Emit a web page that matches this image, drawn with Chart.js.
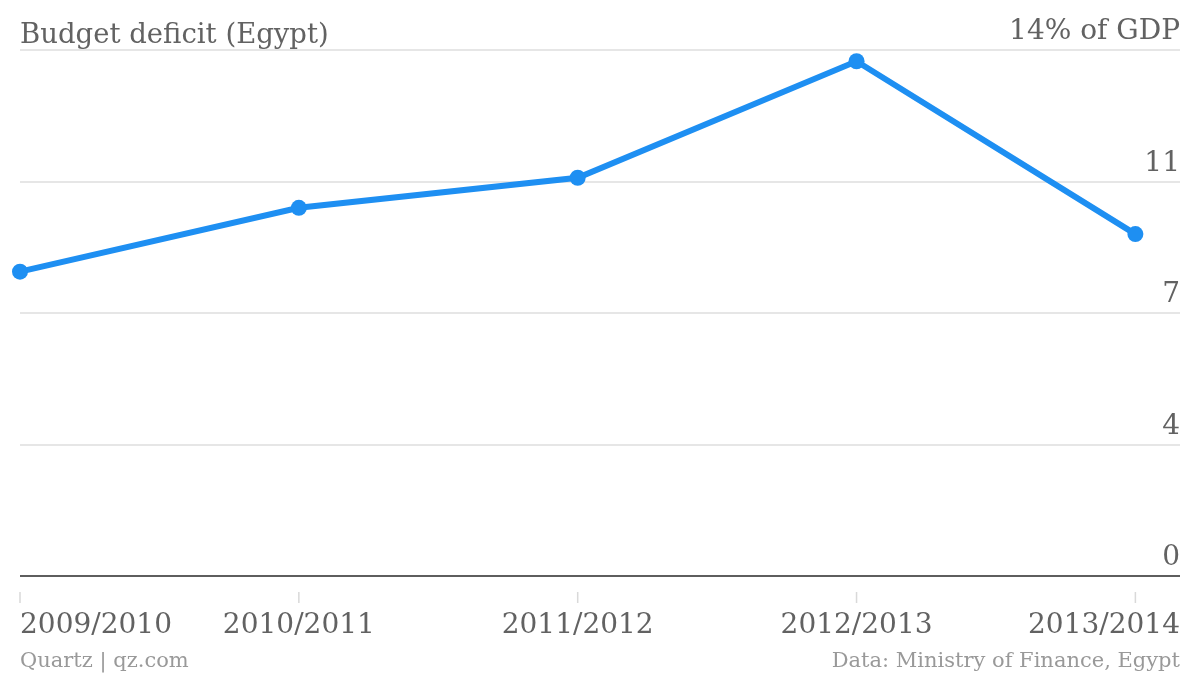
<!DOCTYPE html>
<html>
<head>
<meta charset="utf-8">
<script src="https://cdn.jsdelivr.net/npm/chart.js@4"></script>
<style>
  html, body { margin: 0; padding: 0; background: #ffffff; }
  #wrap { width: 1200px; height: 676px; position: relative; }
</style>
</head>
<body>
<div id="wrap"><canvas id="c" width="1200" height="676"></canvas></div>
<script>
const categories = ['2009/2010', '2010/2011', '2011/2012', '2012/2013', '2013/2014'];
const deficitValues = [8.1, 9.8, 10.6, 13.7, 9.1];
const yTickValues = [0, 3.5, 7, 10.5, 14];
const yTickLabels = ['0', '4', '7', '11', '14% of GDP'];
const chartTitle = 'Budget deficit (Egypt)';
const sourceLeft = 'Quartz | qz.com';
const sourceRight = 'Data: Ministry of Finance, Egypt';

const FONT = '"DejaVu Serif", serif';
const BLUE = '#1e8ff2';

const textPlugin = {
  id: 'textPlugin',
  afterDraw(chart) {
    const ctx = chart.ctx;
    const area = chart.chartArea;
    const xs = chart.scales.x;
    ctx.save();
    // title
    ctx.fillStyle = '#626262';
    ctx.font = '27.5px ' + FONT;
    ctx.textAlign = 'left';
    ctx.textBaseline = 'alphabetic';
    ctx.fillText(chartTitle, area.left, 43);
    // x tick marks and labels
    categories.forEach((lab, i) => {
      const px = xs.getPixelForValue(i);
      ctx.strokeStyle = '#d9d9d9';
      ctx.lineWidth = 1.5;
      ctx.beginPath();
      ctx.moveTo(px, 592);
      ctx.lineTo(px, 603);
      ctx.stroke();
      ctx.fillStyle = '#626262';
      ctx.font = '28px ' + FONT;
      let align = 'center';
      let tx = px;
      if (i === 0) { align = 'left'; }
      if (i === categories.length - 1) { align = 'right'; tx = area.right; }
      ctx.textAlign = align;
      ctx.fillText(lab, tx, 633);
    });
    // footer
    ctx.fillStyle = '#999999';
    ctx.font = '21px ' + FONT;
    ctx.textAlign = 'left';
    ctx.fillText(sourceLeft, area.left, 667);
    ctx.textAlign = 'right';
    ctx.fillText(sourceRight, area.right, 667);
    ctx.restore();
  }
};

new Chart(document.getElementById('c'), {
  type: 'line',
  data: {
    datasets: [{
      data: deficitValues.map((v, i) => ({ x: i, y: v })),
      borderColor: BLUE,
      backgroundColor: BLUE,
      borderWidth: 6,
      pointRadius: 8,
      pointBackgroundColor: BLUE,
      pointBorderWidth: 0,
      tension: 0,
      clip: false
    }]
  },
  options: {
    responsive: false,
    animation: false,
    layout: { padding: { left: 20, right: 20, top: 50, bottom: 100 } },
    plugins: { legend: { display: false }, tooltip: { enabled: false }, title: { display: false } },
    scales: {
      x: {
        type: 'linear',
        display: false,
        min: 0,
        max: 4.16
      },
      y: {
        type: 'linear',
        position: 'right',
        min: 0,
        max: 14,
        afterBuildTicks(scale) {
          scale.ticks = yTickValues.map(v => ({ value: v }));
        },
        border: { display: false },
        grid: {
          drawTicks: false,
          lineWidth: 2,
          color: (c) => (c.tick && c.tick.value === 0) ? '#5e5e5e' : '#e6e6e6'
        },
        ticks: {
          mirror: true,
          padding: 0,
          labelOffset: -18,
          color: '#626262',
          font: { family: FONT, size: 28 },
          callback: (v) => {
            const idx = yTickValues.indexOf(v);
            return idx >= 0 ? yTickLabels[idx] : '';
          }
        }
      }
    }
  },
  plugins: [textPlugin]
});
</script>
</body>
</html>
